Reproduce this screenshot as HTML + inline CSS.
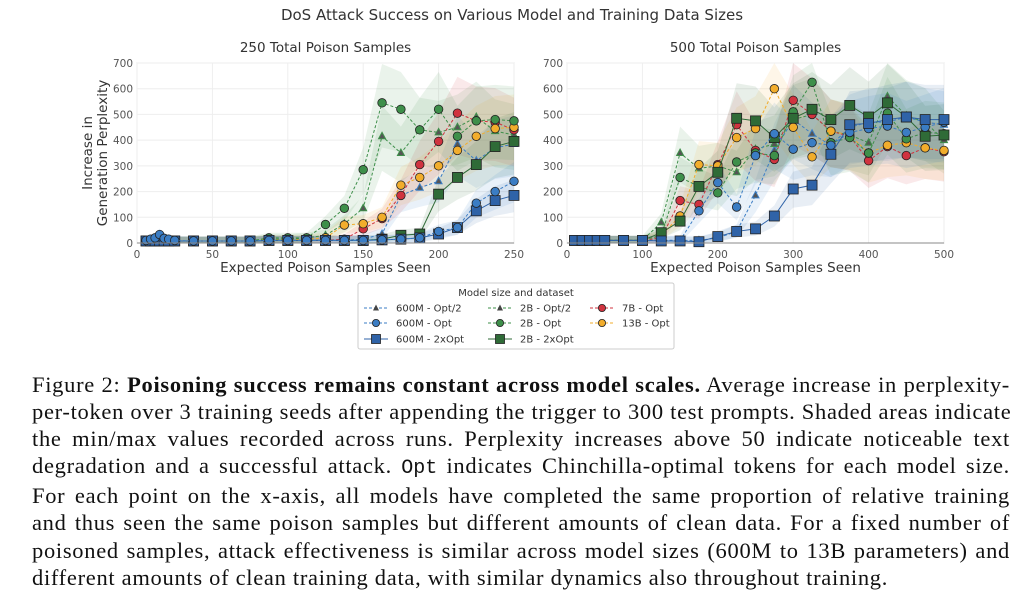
<!DOCTYPE html>
<html><head><meta charset="utf-8">
<style>
body{margin:0;background:#fff;width:1024px;height:601px;overflow:hidden;position:relative}
svg{position:absolute;left:0;top:0}
.cap{position:absolute;left:32px;top:371px;width:978px;font-family:"Liberation Serif",serif;font-size:22.5px;letter-spacing:0.7px;line-height:27.1px;color:#111}
.cap div{text-align:justify;text-align-last:justify;white-space:nowrap}
.cap div.last{text-align-last:left}
.cap code{font-family:"Liberation Mono",monospace;font-size:20px;letter-spacing:0}
</style></head><body>
<svg id="s" width="1024" height="370" xmlns="http://www.w3.org/2000/svg" font-family="DejaVu Sans, sans-serif"></svg>
<div class="cap">
<div>Figure 2: <b>Poisoning success remains constant across model scales.</b> Average increase in perplexity-</div>
<div>per-token over 3 training seeds after appending the trigger to 300 test prompts. Shaded areas indicate</div>
<div>the min/max values recorded across runs. Perplexity increases above 50 indicate noticeable text</div>
<div>degradation and a successful attack. <code>Opt</code> indicates Chinchilla-optimal tokens for each model size.</div>
<div>For each point on the x-axis, all models have completed the same proportion of relative training</div>
<div>and thus seen the same poison samples but different amounts of clean data. For a fixed number of</div>
<div>poisoned samples, attack effectiveness is similar across model sizes (600M to 13B parameters) and</div>
<div class="last">different amounts of clean training data, with similar dynamics also throughout training.</div>
</div>
<script>
const S=document.getElementById('s');let h='';
const BL='#3b7dc4',GR='#3e8f4a',RD='#d0333f',YL='#f2ad2c',DG='#2f6b37',DB='#2f63a8';
h+=`<text x="512" y="20" font-size="15" text-anchor="middle" fill="#333">DoS Attack Success on Various Model and Training Data Sizes</text>`;
function panel(x0,x1,xmax,title,ticks,series,ylab){
 const y0=243,y1=63;const X=v=>x0+(x1-x0)*v/xmax,Y=v=>y0-(y0-y1)*v/700;
 h+=`<text x="${(x0+x1)/2}" y="52" font-size="13.5" text-anchor="middle" fill="#333">${title}</text>`;
 h+=`<rect x="${x0}" y="${y1}" width="${x1-x0}" height="${y0-y1}" fill="#fff" stroke="#ddd"/>`;
 for(const t of ticks){h+=`<line x1="${X(t)}" x2="${X(t)}" y1="${y1}" y2="${y0}" stroke="#eee"/><text x="${X(t)}" y="258" font-size="10.5" fill="#555" text-anchor="middle">${t}</text>`;}
 for(let v=0;v<=700;v+=100){h+=`<line x1="${x0}" x2="${x1}" y1="${Y(v)}" y2="${Y(v)}" stroke="#eee"/><text x="${x0-4}" y="${Y(v)+4}" font-size="10.5" fill="#555" text-anchor="end">${v}</text>`;}
 h+=`<text x="${(x0+x1)/2}" y="272" font-size="13.5" text-anchor="middle" fill="#333">Expected Poison Samples Seen</text>`;
 if(ylab){h+=`<text transform="translate(92,153) rotate(-90)" font-size="13.5" text-anchor="middle" fill="#333">Increase in</text><text transform="translate(107,153) rotate(-90)" font-size="13.5" text-anchor="middle" fill="#333">Generation Perplexity</text>`;}
 for(const s of series){const p=s.d;let up=p.map(([a,b])=>`${X(a)},${Y(Math.min(700,b*1.25+15))}`),dn=p.slice().reverse().map(([a,b])=>`${X(a)},${Y(Math.max(0,b*0.7-10))}`);
  h+=`<polygon points="${up.concat(dn).join(' ')}" fill="${s.c}" opacity="0.11"/>`;}
 for(const s of series){h+=`<polyline points="${s.d.map(([a,b])=>X(a)+','+Y(b)).join(' ')}" fill="none" stroke="${s.c}" stroke-width="1" ${s.m=='s'?'':'stroke-dasharray="3,2"'}/>`;
  for(const [a,b] of s.d){const x=X(a),y=Y(b);
   if(s.m=='o')h+=`<circle cx="${x}" cy="${y}" r="4.3" fill="${s.c}" stroke="#222" stroke-width="0.8"/>`;
   else if(s.m=='s')h+=`<rect x="${x-5}" y="${y-5}" width="10" height="10" fill="${s.c}" stroke="#222" stroke-width="0.8"/>`;
   else h+=`<polygon points="${x},${y-4} ${x-3.5},${y+2.5} ${x+3.5},${y+2.5}" fill="#555" stroke="${s.c}" stroke-width="1"/>`;}}
 h+=`<line x1="${x0}" x2="${x1}" y1="${y0}" y2="${y0}" stroke="#888"/>`;
}
const lowL=[6,9,12,15,18,21,25,37.5,50,62.5,75];
const z=(xs,v)=>xs.map(x=>[x,v]);
const L=(a,rest)=>z(lowL,8).concat(rest);
const b1=[[87.5,10],[100,10],[112.5,10],[125,10],[137.5,10],[150,10],[162.5,12],[175,15],[187.5,20]];
panel(137,514,250,'250 Total Poison Samples',[0,50,100,150,200,250],[
 {c:BL,m:'t',d:L(0,[[87.5,10],[100,10],[112.5,10],[125,10],[137.5,10],[150,15],[162.5,35],[175,185],[187.5,215],[200,240],[212.5,385],[225,320],[237.5,370],[250,385]])},
 {c:GR,m:'t',d:L(0,[[87.5,15],[100,15],[112.5,20],[125,30],[137.5,75],[150,135],[162.5,415],[175,350],[187.5,440],[200,430],[212.5,450],[225,490],[237.5,435],[250,420]])},
 {c:RD,m:'o',d:L(0,[[87.5,10],[100,10],[112.5,10],[125,10],[137.5,15],[150,55],[162.5,95],[175,185],[187.5,305],[200,395],[212.5,505],[225,475],[237.5,470],[250,440]])},
 {c:YL,m:'o',d:L(0,[[87.5,12],[100,12],[112.5,15],[125,20],[137.5,70],[150,75],[162.5,100],[175,225],[187.5,255],[200,300],[212.5,360],[225,415],[237.5,445],[250,450]])},
 {c:GR,m:'o',d:L(0,[[87.5,20],[100,20],[112.5,20],[125,72],[137.5,135],[150,285],[162.5,545],[175,520],[187.5,440],[200,520],[212.5,415],[225,475],[237.5,480],[250,475]])},
 {c:DG,m:'s',d:L(0,[[87.5,10],[100,10],[112.5,10],[125,10],[137.5,10],[150,10],[162.5,15],[175,30],[187.5,35],[200,190],[212.5,255],[225,305],[237.5,375],[250,395]])},
 {c:DB,m:'s',d:L(0,b1.concat([[200,35],[212.5,60],[225,125],[237.5,165],[250,185]]))},
 {c:BL,m:'o',d:[[6,10],[9,15],[12,20],[15,33],[18,18],[21,15],[25,10],[37.5,8],[50,8],[62.5,8],[75,8]].concat(b1,[[200,45],[212.5,60],[225,155],[237.5,200],[250,240]])},
],true);
const lowR=[10,20,30,40,50,75,100];
const R=(r)=>z(lowR,10).concat(r);
panel(567,944,500,'500 Total Poison Samples',[0,100,200,300,400,500],[
 {c:BL,m:'t',d:R([[125,10],[150,10],[175,10],[200,20],[225,45],[250,185],[275,360],[300,480],[325,425],[350,380],[375,450],[400,470],[425,470],[450,490],[475,470],[500,460]])},
 {c:GR,m:'t',d:R([[125,80],[150,350],[175,290],[200,300],[225,275],[250,365],[275,385],[300,480],[325,500],[350,435],[375,420],[400,390],[425,570],[450,495],[475,470],[500,400]])},
 {c:RD,m:'o',d:R([[125,20],[150,165],[175,150],[200,305],[225,460],[250,360],[275,325],[300,555],[325,500],[350,435],[375,415],[400,320],[425,375],[450,340],[475,370],[500,355]])},
 {c:YL,m:'o',d:R([[125,30],[150,105],[175,305],[200,300],[225,410],[250,445],[275,600],[300,450],[325,335],[350,435],[375,420],[400,350],[425,380],[450,390],[475,370],[500,360]])},
 {c:GR,m:'o',d:R([[125,30],[150,255],[175,220],[200,195],[225,315],[250,350],[275,340],[300,510],[325,625],[350,390],[375,410],[400,350],[425,505],[450,405],[475,430],[500,425]])},
 {c:DG,m:'s',d:R([[125,40],[150,85],[175,220],[200,275],[225,485],[250,475],[275,410],[300,485],[325,520],[350,480],[375,535],[400,490],[425,545],[450,490],[475,415],[500,420]])},
 {c:BL,m:'o',d:R([[125,10],[150,10],[175,125],[200,235],[225,140],[250,340],[275,425],[300,365],[325,390],[350,380],[375,430],[400,445],[425,455],[450,430],[475,450],[500,470]])},
 {c:DB,m:'s',d:R([[125,8],[150,8],[175,5],[200,25],[225,45],[250,55],[275,105],[300,210],[325,225],[350,345],[375,460],[400,465],[425,480],[450,490],[475,480],[500,480]])},
],false);
h+=`<rect x="358" y="283" width="316" height="66" fill="#fff" stroke="#ccc" rx="2"/>`;
h+=`<text x="516" y="296" font-size="10" text-anchor="middle" fill="#333">Model size and dataset</text>`;
const items=[[364,308,BL,'t','600M - Opt/2'],[364,323,BL,'o','600M - Opt'],[364,339,DB,'s','600M - 2xOpt'],[488,308,GR,'t','2B - Opt/2'],[488,323,GR,'o','2B - Opt'],[488,339,DG,'s','2B - 2xOpt'],[590,308,RD,'o','7B - Opt'],[590,323,YL,'o','13B - Opt']];
for(const [x,y,c,m,t] of items){h+=`<line x1="${x}" x2="${x+24}" y1="${y}" y2="${y}" stroke="${c}" ${m=='s'?'':'stroke-dasharray="3,2"'}/>`;const cx=x+12;
 if(m=='o')h+=`<circle cx="${cx}" cy="${y}" r="3.6" fill="${c}" stroke="#222" stroke-width="0.8"/>`;
 else if(m=='s')h+=`<rect x="${cx-4.5}" y="${y-4.5}" width="9" height="9" fill="${c}" stroke="#222" stroke-width="0.8"/>`;
 else h+=`<polygon points="${cx},${y-3.5} ${cx-3},${y+2.5} ${cx+3},${y+2.5}" fill="#444"/>`;
 h+=`<text x="${x+32}" y="${y+3.5}" font-size="10" fill="#333">${t}</text>`;}
S.innerHTML=h;
</script>
</body></html>
